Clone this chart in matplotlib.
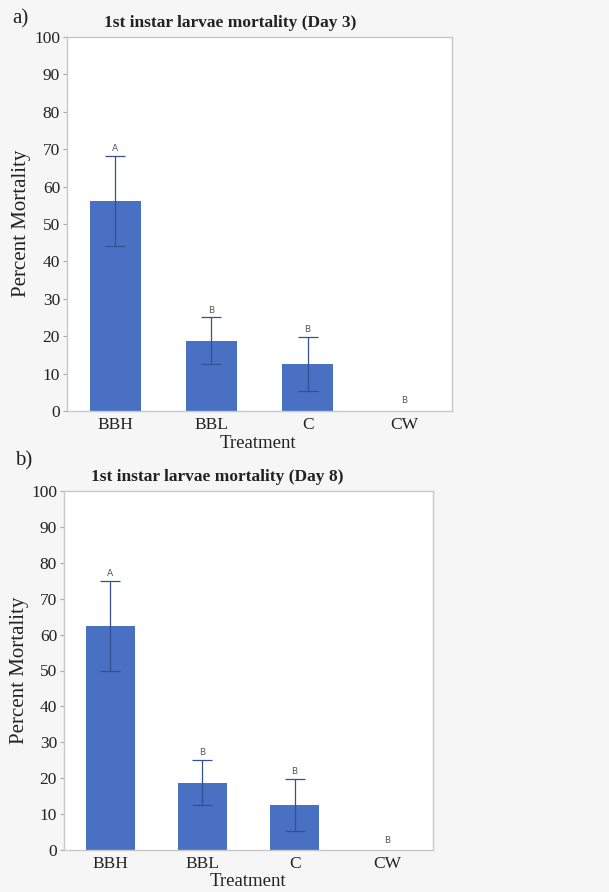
import matplotlib.pyplot as plt
import numpy as np

treatments = ['BBH', 'BBL', 'C', 'CW']

# Day 3
day3_mean = [56.25, 18.75, 12.5, 0]
day3_err = [12.0, 6.25, 7.2, 0]
day3_letters = ['A', 'B', 'B', 'B']

# Day 8
day8_mean = [62.5, 18.75, 12.5, 0]
day8_err = [12.5, 6.25, 7.2, 0]
day8_letters = ['A', 'B', 'B', 'B']

serif = ['Liberation Serif', 'DejaVu Serif']
bar_col = '#4a70c4'
err_col = '#34508f'

fig = plt.figure(figsize=(6.09, 8.92), dpi=100, facecolor='#f6f6f6')


def panel(rect, means, errs, letters, title, tag, title_xy, tag_xy, ylab_x, xlab_xy):
    ax = fig.add_axes(rect)
    ax.set_facecolor('white')
    x = np.arange(len(treatments))
    ax.bar(x, means, width=0.53, color=bar_col, zorder=2)
    for xi, m, e in zip(x, means, errs):
        if e > 0:
            ax.errorbar(xi, m, yerr=e, fmt='none', ecolor=err_col,
                        elinewidth=0.9, capsize=7, capthick=0.9, zorder=3)
    for xi, m, e, lt in zip(x, means, errs, letters):
        ypos = m + e + 0.8 if m > 0 else 1.5
        ax.text(xi, ypos, lt, ha='center', va='bottom', fontsize=6.5,
                color='#555555', family='DejaVu Sans')
    ax.set_xlim(-0.5, 3.5)
    ax.set_ylim(0, 100)
    ax.set_yticks(np.arange(0, 101, 10))
    ax.set_xticks(x)
    ax.set_xticklabels(treatments, family=serif, fontsize=12.5, color='#222222')
    for lbl in ax.get_yticklabels():
        lbl.set_family(serif)
        lbl.set_fontsize(12.5)
        lbl.set_color('#222222')
    ax.tick_params(axis='y', length=3, color='#aaaaaa', pad=2)
    ax.tick_params(axis='x', length=0, pad=4)
    for s in ax.spines.values():
        s.set_color('#c8c8c8')
        s.set_linewidth(1.0)
    fig.text(title_xy[0] / 609, 1 - title_xy[1] / 892, title, ha='center', va='center',
             family=serif, fontsize=12.5, fontweight='bold', color='#222222')
    fig.text(tag_xy[0] / 609, 1 - tag_xy[1] / 892, tag, ha='center', va='center',
             family=serif, fontsize=15, color='#222222')
    fig.text(ylab_x[0] / 609, 1 - ylab_x[1] / 892, 'Percent Mortality', ha='center',
             va='center', rotation=90, family=serif, fontsize=15, color='#222222')
    fig.text(xlab_xy[0] / 609, 1 - xlab_xy[1] / 892, 'Treatment', ha='center',
             va='center', family=serif, fontsize=13.5, color='#222222')
    return ax


panel([67 / 609, 1 - 411 / 892, (452 - 67) / 609, (411 - 37) / 892],
      day3_mean, day3_err, day3_letters,
      '1st instar larvae mortality (Day 3)', 'a)',
      (230, 23), (20, 19), (22, 223), (258, 444))

panel([64 / 609, 1 - 850 / 892, (433 - 64) / 609, (850 - 491) / 892],
      day8_mean, day8_err, day8_letters,
      '1st instar larvae mortality (Day 8)', 'b)',
      (217, 477), (24, 461), (20, 670), (248, 882))

fig.savefig('out.png', dpi=100, facecolor=fig.get_facecolor())
